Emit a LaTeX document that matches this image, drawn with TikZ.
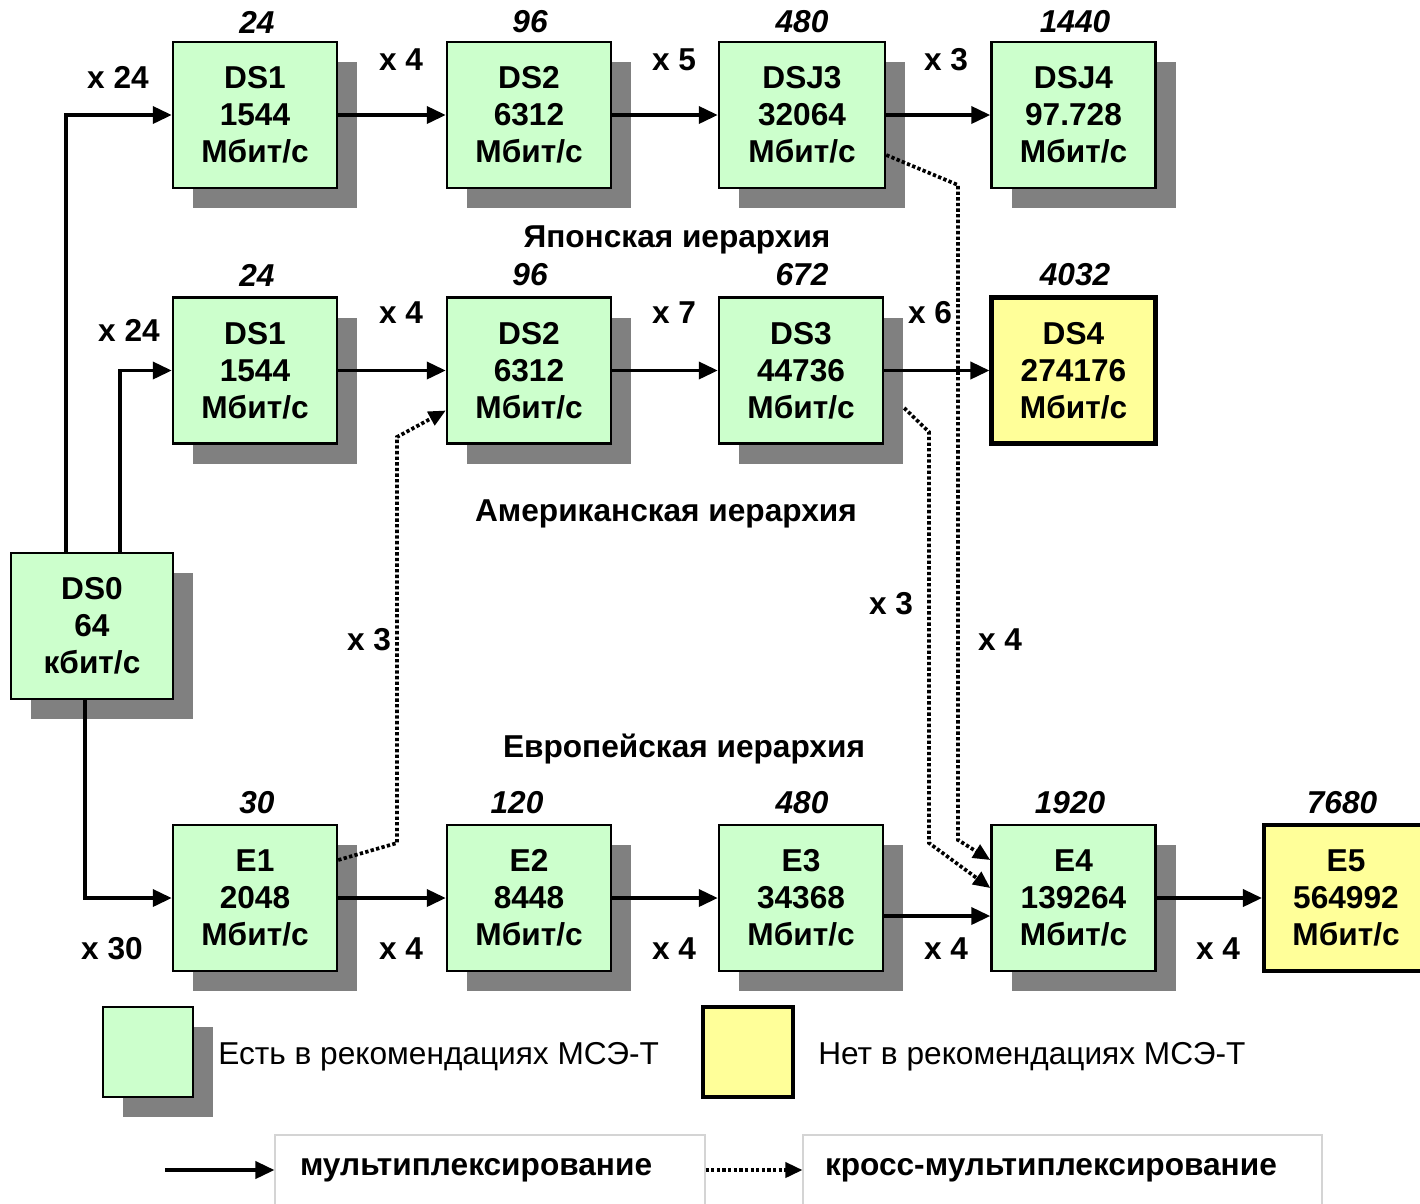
\documentclass[tikz,border=0pt]{standalone}
\usepackage{fontspec}
\setmainfont{Liberation Sans}
\usepackage{xcolor}
\usetikzlibrary{arrows.meta,shadows}

\definecolor{greenbox}{HTML}{CCFFCC}
\definecolor{yellowbox}{HTML}{FFFF99}
\definecolor{shadowgray}{HTML}{808080}
\definecolor{framegray}{HTML}{D4D4D4}

\begin{document}
\begin{tikzpicture}[font=\fontsize{18}{21}\selectfont]
    % Define styles
    \tikzstyle{ratebase} = [rectangle, draw, line width=1.4pt, fill=greenbox, minimum width=3.28cm, minimum height=2.92cm, inner sep=0pt, align=center, font=\fontsize{18}{21}\selectfont\bfseries]
    \tikzstyle{rate} = [ratebase, drop shadow={shadow xshift=0.4cm, shadow yshift=-0.4cm, fill=shadowgray, opacity=1}]
    \tikzstyle{newrate} = [ratebase, fill=yellowbox, line width=2.3pt]
    \tikzstyle{count} = [font=\fontsize{18}{21}\selectfont\bfseries\itshape]
    \tikzstyle{factor} = [font=\fontsize{18}{21}\selectfont\bfseries]
    \tikzstyle{title} = [font=\fontsize{18}{21}\selectfont\bfseries]
    \tikzstyle{mux} = [line width=2.1pt, -{Triangle[length=0.38cm, width=0.34cm]}]
    \tikzstyle{cross} = [line width=2.1pt, dash pattern=on 1.9pt off 1.3pt, -{Triangle[length=0.34cm, width=0.3cm]}]
    \tikzstyle{keybox} = [rectangle, draw=framegray, line width=0.6pt, minimum height=1.4cm, font=\fontsize{18}{21}\selectfont\bfseries]

    \useasboundingbox (0,0) rectangle (28.4,-24.06);

    % Japanese row
    \node[rate] (ds1a) at (5.10,-2.30) {DS1\\1544\\Мбит/с};
    \node[rate] (ds2a) at (10.58,-2.30) {DS2\\6312\\Мбит/с};
    \node[rate, minimum width=3.32cm] (dsj3) at (16.04,-2.30) {DSJ3\\32064\\Мбит/с};
    \node[rate] (dsj4) at (21.47,-2.30) {DSJ4\\97.728\\Мбит/с};

    % American row
    \node[rate] (ds1b) at (5.10,-7.41) {DS1\\1544\\Мбит/с};
    \node[rate] (ds2b) at (10.58,-7.41) {DS2\\6312\\Мбит/с};
    \node[rate] (ds3) at (16.02,-7.41) {DS3\\44736\\Мбит/с};
    \node[newrate] (ds4) at (21.47,-7.41) {DS4\\274176\\Мбит/с};

    % Source
    \node[rate, minimum width=3.24cm] (ds0) at (1.84,-12.52) {DS0\\64\\кбит/с};

    % European row
    \node[rate] (e1) at (5.10,-17.96) {E1\\2048\\Мбит/с};
    \node[rate] (e2) at (10.58,-17.96) {E2\\8448\\Мбит/с};
    \node[rate] (e3) at (16.02,-17.96) {E3\\34368\\Мбит/с};
    \node[rate] (e4) at (21.47,-17.96) {E4\\139264\\Мбит/с};
    \node[newrate] (e5) at (26.92,-17.96) {E5\\564992\\Мбит/с};

    % Channel counts
    \node[count] (c1a) at (5.14,-0.44) {24};
    \node[count] (c2a) at (10.60,-0.44) {96};
    \node[count] (c3a) at (16.04,-0.44) {480};
    \node[count] (c4a) at (21.50,-0.44) {1440};
    \node[count] (c1b) at (5.14,-5.50) {24};
    \node[count] (c2b) at (10.60,-5.50) {96};
    \node[count] (c3b) at (16.04,-5.50) {672};
    \node[count] (c4b) at (21.50,-5.50) {4032};
    \node[count] (c1c) at (5.14,-16.06) {30};
    \node[count] (c2c) at (10.34,-16.06) {120};
    \node[count] (c3c) at (16.04,-16.06) {480};
    \node[count] (c4c) at (21.40,-16.06) {1920};
    \node[count] (c5c) at (26.84,-16.06) {7680};

    % Hierarchy titles
    \node[title] (jap) at (13.54,-4.80) {Японская иерархия};
    \node[title] (ame) at (13.32,-10.28) {Американская иерархия};
    \node[title] (eur) at (13.68,-14.98) {Европейская иерархия};

    % Multiplexing factors
    \node[factor] (f1a) at (2.36,-1.54) {x 24};
    \node[factor] (f2a) at (8.02,-1.20) {x 4};
    \node[factor] (f3a) at (13.48,-1.20) {x 5};
    \node[factor] (f4a) at (18.92,-1.20) {x 3};
    \node[factor] (f1b) at (2.58,-6.60) {x 24};
    \node[factor] (f2b) at (8.02,-6.26) {x 4};
    \node[factor] (f3b) at (13.48,-6.26) {x 7};
    \node[factor] (f4b) at (18.60,-6.26) {x 6};
    \node[factor] (f1c) at (2.24,-18.98) {x 30};
    \node[factor] (f2c) at (8.02,-18.98) {x 4};
    \node[factor] (f3c) at (13.48,-18.98) {x 4};
    \node[factor] (f4c) at (18.92,-18.98) {x 4};
    \node[factor] (f5c) at (24.36,-18.98) {x 4};
    \node[factor] (fx1) at (7.38,-12.80) {x 3};
    \node[factor] (fx2) at (17.82,-12.08) {x 3};
    \node[factor] (fx3) at (20.00,-12.80) {x 4};

    % Multiplexing arrows
    \draw[mux] ([xshift=-0.52cm]ds0.north) |- (ds1a.west);
    \draw[mux] ([xshift=0.56cm]ds0.north) |- (ds1b.west);
    \draw[mux] ([xshift=-0.14cm]ds0.south) |- (e1.west);
    \draw[mux] (ds1a) -- (ds2a);
    \draw[mux] (ds2a) -- (dsj3);
    \draw[mux] (dsj3) -- (dsj4);
    \draw[mux] (ds1b) -- (ds2b);
    \draw[mux] (ds2b) -- (ds3);
    \draw[mux] (ds3) -- (ds4);
    \draw[mux] (e1) -- (e2);
    \draw[mux] (e2) -- (e3);
    \draw[mux] ([yshift=-0.36cm]e3.east) -- ([yshift=-0.36cm]e4.west);
    \draw[mux] (e4) -- (e5);

    % Cross-multiplexing arrows
    \draw[cross] ([yshift=0.76cm]e1.east) -- (7.94,-16.86) -- (7.94,-8.74) -- ([yshift=-0.8cm]ds2b.west);
    \draw[cross] ([yshift=-0.8cm]dsj3.east) -- (19.16,-3.70) -- (19.16,-16.80) -- ([yshift=0.76cm]e4.west);
    \draw[cross] ([xshift=0.4cm, yshift=-0.75cm]ds3.east) -- (18.58,-8.64) -- (18.58,-16.86) -- ([yshift=0.2cm]e4.west);

    % Legend
    \node[ratebase, minimum width=1.8cm, minimum height=1.8cm, drop shadow={shadow xshift=0.4cm, shadow yshift=-0.4cm, fill=shadowgray, opacity=1}] (keyold) at (2.96,-21.04) {};
    \node[anchor=west, inner sep=0pt] (keyoldtext) at (4.36,-21.14) {Есть в рекомендациях МСЭ-Т};
    \node[newrate, minimum width=1.8cm, minimum height=1.8cm] (keynew) at (14.96,-21.04) {};
    \node[anchor=west, inner sep=0pt] (keynewtext) at (16.36,-21.14) {Нет в рекомендациях МСЭ-Т};

    \coordinate (keystart) at (3.30,-23.40);
    \node[keybox, minimum width=8.6cm, text width=7.6cm] (muxlabel) at (9.80,-23.40) {мультиплексирование};
    \node[keybox, minimum width=10.38cm, text width=9.5cm] (crosslabel) at (21.25,-23.40) {кросс-мультиплексирование};
    \draw[mux] (keystart) -- (muxlabel.west);
    \draw[cross] (muxlabel.east) -- (crosslabel.west);
\end{tikzpicture}
\end{document}
